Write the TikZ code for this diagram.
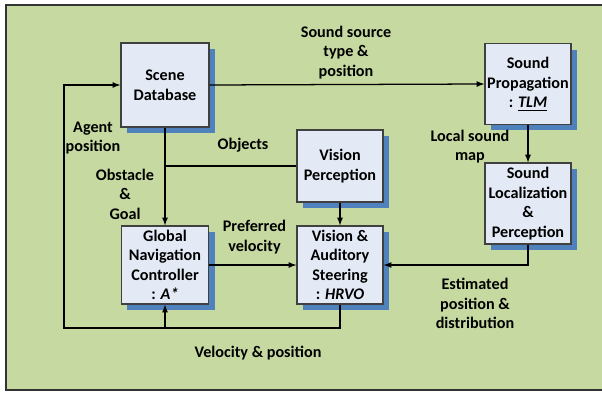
\documentclass[tikz,border=0pt]{standalone}
\usepackage{fontspec}
\setmainfont{Carlito}
\usetikzlibrary{shapes,arrows,positioning,shadows}
\definecolor{bggreen}{HTML}{C6D9A1}
\definecolor{boxfill}{HTML}{E4EAF5}
\definecolor{shadowblue}{HTML}{4F81BD}

\begin{document}
\begin{tikzpicture}[
    x=0.025cm, y=-0.025cm,
    font=\fontsize{11.5}{13.9}\selectfont\bfseries,
    line width=0.9pt, >=latex,
    block/.style={rectangle, draw=black!75, fill=boxfill, align=center, inner sep=1pt,
        drop shadow={shadow xshift=0.15cm, shadow yshift=-0.15cm, fill=shadowblue, opacity=1}},
    lbl/.style={align=center, inner sep=0pt}
]
\useasboundingbox (0,0) rectangle (602,393);
\fill[bggreen] (6,5) rectangle (602,390);
\draw[line width=1.2pt, draw=black!80] (602,5) -- (6,5) -- (6,390) -- (602,390);

% blocks
\node[block, minimum width=2.2cm, minimum height=2.1cm] (scene) at (165,85) {Scene\\Database};
\node[block, minimum width=2.15cm, minimum height=2.02cm] (prop) at (528,84) {Sound\\Propagation\\: \underline{\textit{TLM}}};
\node[block, minimum width=2.15cm, minimum height=1.8cm] (vision) at (340,166) {Vision\\Perception};
\node[block, minimum width=2.15cm, minimum height=2.02cm] (loc) at (528,203.5) {Sound\\Localization\\\&\\Perception};
\node[block, minimum width=2.18cm, minimum height=1.95cm] (global) at (165,265) {Global\\Navigation\\Controller\\: \textit{A*}};
\node[block, minimum width=2.15cm, minimum height=1.95cm] (steer) at (340,265) {Vision \&\\Auditory\\Steering\\: \textit{HRVO}};
\coordinate (corner) at (64,328);

% connectors
\draw[->] (scene.east) -- (prop.west);
\draw[->] (prop) -- (loc);
\draw[->] (scene.south) -- (global.north);
\draw (scene.south |- vision.west) -- (vision.west);
\draw[->] (vision) -- (steer);
\draw[->] (global) -- (steer);
\draw[->] (loc.south) |- (steer.east);
\draw[->] (steer.south) |- (corner) |- (scene.west);
\draw[->] (global.south |- corner) -- (global.south);

% labels
\node[lbl] (srcl) at (346,52.5) {Sound source\\type \&\\position};
\node[lbl] (agentl) at (93,138) {Agent\\position};
\node[lbl] (objl) at (243,145) {Objects};
\node[lbl] (obstl) at (125,194) {Obstacle\\\&\\Goal};
\node[lbl] (prefl) at (254.5,237) {Preferred\\velocity};
\node[lbl] (locl) at (470,146.5) {Local sound\\map};
\node[lbl] (estl) at (475,303.5) {Estimated\\position \&\\distribution};
\node[lbl] (vell) at (258,353) {Velocity \& position};
\end{tikzpicture}
\end{document}
